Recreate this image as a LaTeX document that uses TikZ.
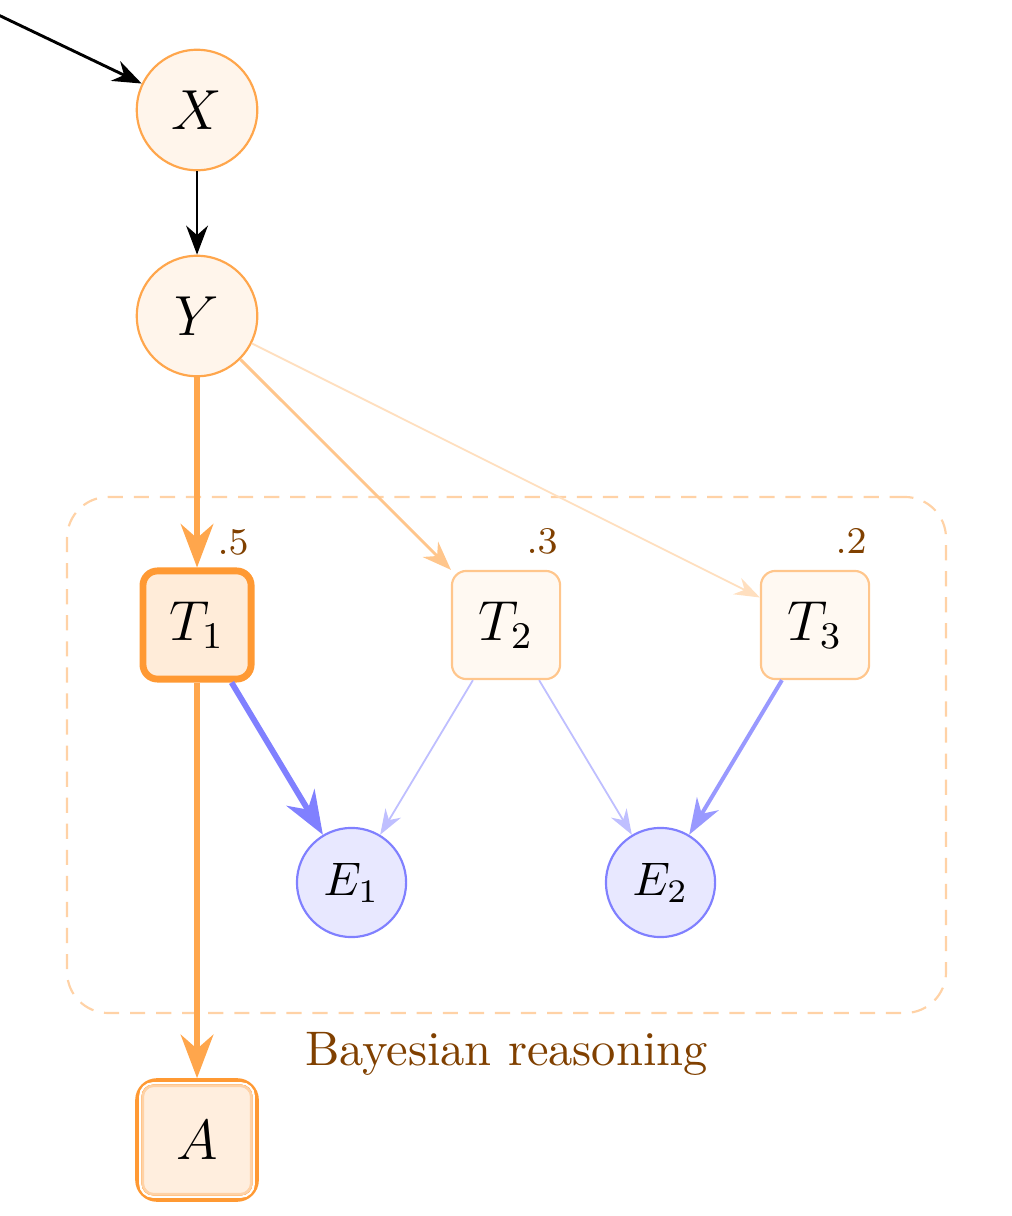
\documentclass[tikz,border=0pt]{standalone}
\usetikzlibrary{arrows.meta,positioning}
\newcommand\sctext[1]{\scalebox{1.3}{#1}}
\begin{document}
\begin{tikzpicture}[
  var/.style={circle, draw=orange!70, fill=orange!8, line width=0.6pt, minimum size=1.17cm, inner sep=0pt, font=\large},
  ev/.style={circle, draw=blue!50, fill=blue!9, line width=0.6pt, minimum size=1.06cm, inner sep=0pt, font=\normalsize},
  hyp/.style={rectangle, rounded corners=4pt, draw=orange!45, fill=orange!5, line width=0.6pt, minimum size=1.05cm, inner sep=0pt, font=\large},
  best/.style={hyp, draw=orange!80, fill=orange!15, line width=1.9pt},
  act/.style={rectangle, rounded corners=5pt, draw=orange!80, fill=orange!13, line width=2pt, minimum size=1.13cm, inner sep=0pt, font=\large},
  prob/.style={font=\footnotesize, text=orange!50!black, inner sep=0pt},
  group/.style={draw=orange!35, dash pattern=on 4.2pt off 3pt, line width=0.6pt, rounded corners=0.4cm, inner sep=0pt},
  black link/.style={-{Stealth[length=8pt,width=6pt]}, line width=0.8pt},
  strong/.style={line width=1.6pt, -{Stealth[length=12pt,width=9pt]}},
  medium/.style={line width=1.1pt, -{Stealth[length=10pt,width=7pt]}},
  weak/.style={line width=0.8pt, -{Stealth[length=8pt,width=6pt]}},
  faint/.style={line width=0.5pt, -{Stealth[length=7pt,width=5pt]}},
]
\useasboundingbox (-1.913,1.068) rectangle (7.912,-10.738);

\node (box) [group, minimum width=8.534cm, minimum height=5.01cm] at (3.005,-6.262) {};
\node (lab) [below=0.05cm of box.south, text=orange!50!black] {\scalebox{1.34}{Bayesian reasoning}};

\node (X) [var] at (0,0) {\sctext{$X$}};
\node (Y) [var] at (0,-2) {\sctext{$Y$}};
\node (T1) [best] at (0,-5) {\sctext{$T_1$}};
\node (T2) [hyp] at (3,-5) {\sctext{$T_2$}};
\node (T3) [hyp] at (6,-5) {\sctext{$T_3$}};
\node (E1) [ev] at (1.5,-7.5) {\sctext{$E_1$}};
\node (E2) [ev] at (4.5,-7.5) {\sctext{$E_2$}};
\node (A) [act] at (0,-10) {\sctext{$A$}};
\draw[white, line width=0.6pt, rounded corners=3.5pt] ([shift={(1.4pt,1.4pt)}]A.south west) rectangle ([shift={(-1.4pt,-1.4pt)}]A.north east);
\draw[orange!35, line width=0.7pt, rounded corners=3pt] ([shift={(2.1pt,2.1pt)}]A.south west) rectangle ([shift={(-2.1pt,-2.1pt)}]A.north east);

\node (p1) [prob] at ([shift={(0.35,0.80)}]T1.center) {\sctext{$.5$}};
\node (p2) [prob] at ([shift={(0.35,0.81)}]T2.center) {\sctext{$.3$}};
\node (p3) [prob] at ([shift={(0.35,0.81)}]T3.center) {\sctext{$.2$}};

\coordinate (in) at (-2.3,1.1);
\draw[black link] (in) -- (X);
\draw[black link] (X) -- (Y);
\draw[strong, orange!70] (Y) -- (T1);
\draw[weak, orange!45] (Y) -- (T2);
\draw[faint, orange!25] (Y) -- (T3);
\draw[strong, blue!50] (T1) -- (E1);
\draw[faint, blue!25] (T2) -- (E1);
\draw[faint, blue!25] (T2) -- (E2);
\draw[medium, blue!40] (T3) -- (E2);
\draw[strong, orange!70] (T1) -- (A);
\end{tikzpicture}
\end{document}
